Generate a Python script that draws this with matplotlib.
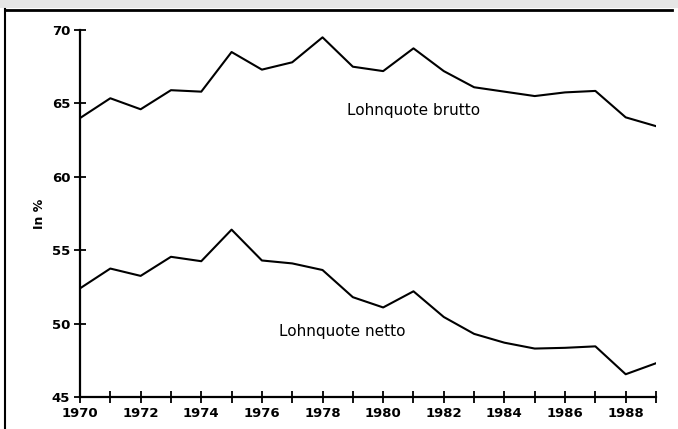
import matplotlib
matplotlib.use("Agg")
import matplotlib.pyplot as plt
from matplotlib.lines import Line2D

years = list(range(1970, 1990))
brutto = [64.0, 65.35, 64.6, 65.9, 65.8, 68.5, 67.3, 67.8, 69.5, 67.5,
          67.2, 68.75, 67.2, 66.1, 65.8, 65.5, 65.75, 65.85, 64.05, 63.45]
netto = [52.4, 53.75, 53.25, 54.55, 54.25, 56.4, 54.3, 54.1, 53.65, 51.8,
         51.1, 52.2, 50.45, 49.3, 48.7, 48.3, 48.35, 48.45, 46.55, 47.3]
xlabels = [str(y) for y in range(1970, 1990, 2)]
yticks = [45, 50, 55, 60, 65, 70]

fig = plt.figure(figsize=(6.78, 4.29), dpi=100)
ax = fig.add_axes([80/678, 1-397/429, (656-80)/678, (397-30)/429])

ax.plot(years, brutto, color="black", lw=1.5)
ax.plot(years, netto, color="black", lw=1.5)

ax.set_xlim(1970, 1989)
ax.set_ylim(45, 70)
ax.set_xticks(years)
ax.set_xticklabels([str(y) if y % 2 == 0 else "" for y in years])
ax.set_yticks(yticks)
for s in ["top", "right"]:
    ax.spines[s].set_visible(False)
for s in ["left", "bottom"]:
    ax.spines[s].set_linewidth(1.6)
ax.tick_params(axis="both", direction="inout", length=8, width=1.3,
               labelsize=9.5, pad=3)
for lab in ax.get_xticklabels() + ax.get_yticklabels():
    lab.set_fontweight("bold")
ax.set_ylabel("In %", fontsize=9, fontweight="bold", labelpad=4)

ax.text(1978.8, 64.5, "Lohnquote brutto", fontsize=11, ha="left", va="center")
ax.text(1976.55, 49.45, "Lohnquote netto", fontsize=11, ha="left", va="center")

# page frame
fig.add_artist(Line2D([5/678, 5/678], [0, 1-9/429], transform=fig.transFigure,
                      color="black", lw=1.5))
fig.add_artist(Line2D([5/678, 672/678], [1-9.5/429, 1-9.5/429],
                      transform=fig.transFigure, color="black", lw=2))
fig.patches.append(plt.Rectangle((0, 1-8/429), 1, 8/429, transform=fig.transFigure,
                                 facecolor="#e6e6e6", edgecolor="none"))

fig.savefig("out.png", dpi=100)
